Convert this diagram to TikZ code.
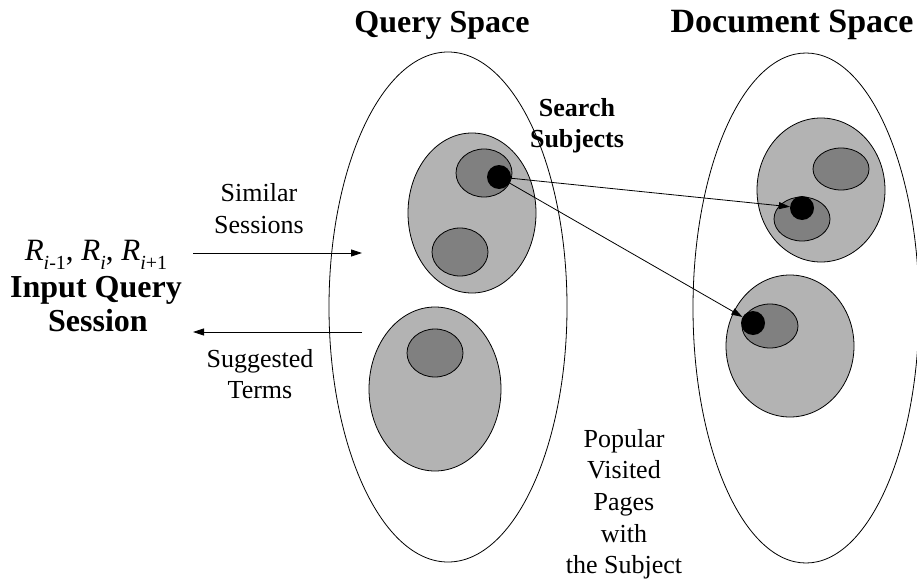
\documentclass[tikz,border=0pt]{standalone}
\usepackage{fontspec}
\setmainfont{Liberation Serif}
\usetikzlibrary{arrows.meta,shapes.geometric}
\definecolor{lgray}{HTML}{B3B3B3}
\definecolor{dgray}{HTML}{808080}
\newcommand{\Rsb}[1]{\textit{R}\raisebox{-0.3em}{\fontsize{20pt}{20pt}\selectfont #1}}
\tikzset{
  spaceell/.style={draw=black, line width=0.8pt, ellipse, inner sep=0pt, fill=white},
  subj/.style={draw=black, line width=0.8pt, ellipse, inner sep=0pt, fill=lgray},
  sub/.style={draw=black, line width=0.8pt, ellipse, inner sep=0pt, fill=dgray},
  dotn/.style={circle, fill=black, inner sep=0pt, minimum size=24pt},
  arr/.style={line width=0.8pt, -{Triangle[length=11pt,width=7pt]}},
  reg/.style={anchor=base, font=\fontsize{26pt}{31pt}\selectfont, inner sep=0pt},
  bigb/.style={anchor=base, font=\bfseries\fontsize{32pt}{38pt}\selectfont, inner sep=0pt},
  midb/.style={anchor=base, font=\bfseries\fontsize{26pt}{31pt}\selectfont, inner sep=0pt},
}
\begin{document}
\begin{tikzpicture}[x=1pt,y=-1pt]
\useasboundingbox (0,0) rectangle (917,583);
% spaces
\node[spaceell, minimum width=238pt, minimum height=510pt] (qspace) at (448,307) {};
\node[spaceell, minimum width=226pt, minimum height=510pt] (dspace) at (806,308) {};
% query subjects
\node[subj, minimum width=128pt, minimum height=160pt] (qs1) at (472,213) {};
\node[sub, minimum width=56pt, minimum height=48pt] (qs1a) at (484,173) {};
\node[sub, minimum width=56pt, minimum height=48pt] (qs1b) at (460,252) {};
\node[dotn] (qdot) at (499,177) {};
\node[subj, minimum width=132pt, minimum height=164pt] (qs2) at (435,389) {};
\node[sub, minimum width=56pt, minimum height=48pt] (qs2a) at (435,353) {};
% document subjects
\node[subj, minimum width=128pt, minimum height=144pt] (ds1) at (821,190) {};
\node[sub, minimum width=56pt, minimum height=42pt] (ds1a) at (841,169) {};
\node[sub, minimum width=56pt, minimum height=44pt] (ds1b) at (802,219) {};
\node[dotn] (ddot1) at (802,208) {};
\node[subj, minimum width=128pt, minimum height=142pt] (ds2) at (790,346) {};
\node[sub, minimum width=56pt, minimum height=44pt] (ds2a) at (770,326) {};
\node[dotn] (ddot2) at (753,323) {};
% connectors
\draw[arr] (qdot) -- (ddot1);
\draw[arr] (qdot) -- (ddot2);
\coordinate (inS) at (193,253);
\coordinate (inE) at (362,253);
\coordinate (outS) at (362,332);
\coordinate (outE) at (193,332);
\draw[arr] (inS) -- (inE);
\draw[arr] (outS) -- (outE);
% titles
\node[bigb] (qtitle) at (442,33) {Query Space};
\node[bigb, font=\bfseries\fontsize{34pt}{40pt}\selectfont] (dtitle) at (792,33) {Document Space};
\node[midb] (ss1) at (577,117) {Search};
\node[midb] (ss2) at (577,147) {Subjects};
% left texts
\node[anchor=base, inner sep=0pt, font=\fontsize{31pt}{36pt}\selectfont] (rrow) at (96,260) {\Rsb{\textit{i}-1}, \Rsb{\textit{i}}, \Rsb{\textit{i}+1}};
\node[bigb] (iq1) at (96,297) {Input Query};
\node[bigb] (iq2) at (98,331) {Session};
\node[reg] (sim1) at (259,201) {Similar};
\node[reg] (sim2) at (259,233) {Sessions};
\node[reg] (sug1) at (260,367) {Suggested};
\node[reg] (sug2) at (260,398) {Terms};
% popular
\node[reg] (p1) at (624,447) {Popular};
\node[reg] (p2) at (624,478) {Visited};
\node[reg] (p3) at (624,510) {Pages};
\node[reg] (p4) at (624,542) {with};
\node[reg] (p5) at (624,573) {the Subject};
\end{tikzpicture}
\end{document}
